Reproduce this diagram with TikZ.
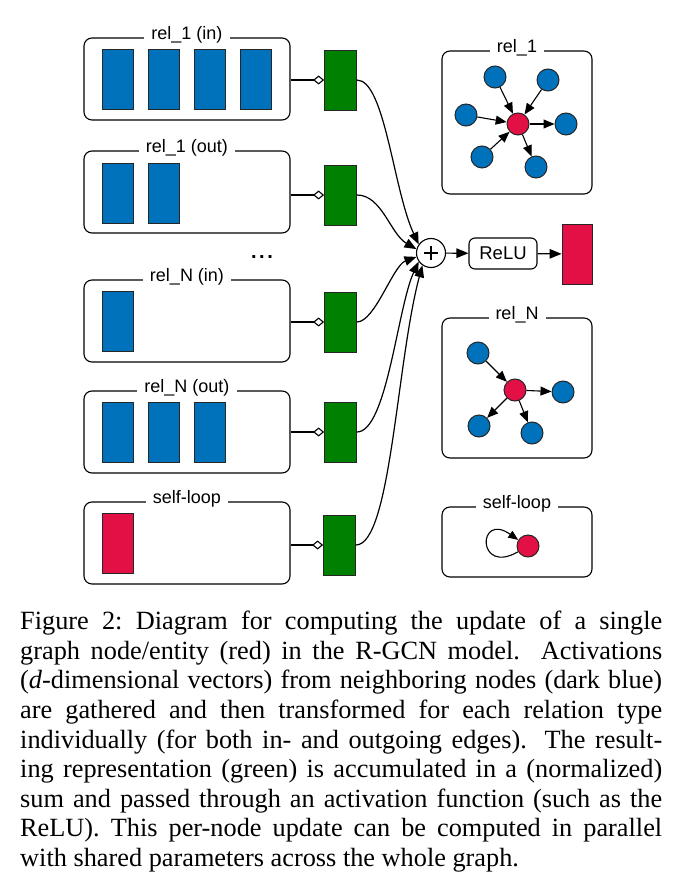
\documentclass[tikz,border=0pt]{standalone}
\usepackage{fontspec}
\setmainfont{Liberation Sans}
\newfontfamily\capfont{Liberation Serif}
\usetikzlibrary{arrows.meta}
\definecolor{myblue}{RGB}{0,114,187}
\definecolor{mygreen}{RGB}{0,128,0}
\definecolor{myred}{RGB}{226,16,68}
\begin{document}
\begin{tikzpicture}[x=1pt,y=1pt,
  frame/.style={draw, rounded corners=8pt, line width=1.1pt, minimum width=206pt, minimum height=82pt, inner sep=0},
  rframe/.style={draw, rounded corners=8pt, line width=1.1pt, minimum width=150pt, inner sep=0},
  ttl/.style={fill=white, inner xsep=7pt, inner ysep=1pt, font=\fontsize{18}{20}\selectfont, anchor=base},
  vec/.style={draw=black!85, line width=0.8pt, minimum width=31pt, minimum height=60pt, inner sep=0},
  bvec/.style={vec, fill=myblue},
  gvec/.style={vec, fill=mygreen, minimum width=32pt},
  rvec/.style={vec, fill=myred},
  gnode/.style={circle, draw=black!85, line width=1pt, minimum size=22pt, inner sep=0},
  bnode/.style={gnode, fill=myblue},
  rnode/.style={gnode, fill=myred},
  dia/.style={line width=1.1pt, -{Diamond[open, length=11pt, width=9pt, line width=1.1pt]}},
  barr/.style={line width=1.2pt, -{Triangle[length=12pt, width=9.5pt]}},
  sarr/.style={line width=1.1pt, -{Triangle[length=11pt, width=9pt]}}
]
\useasboundingbox (0,0) rectangle (681,-882);

% left frames
\node[frame] (b1) at (187,-79) {};
\node[frame] (b2) at (187,-192) {};
\node[frame] (b3) at (187,-321) {};
\node[frame] (b4) at (187,-432) {};
\node[frame] (b5) at (187,-543) {};
\node[ttl] (t1) at ([yshift=-2pt]b1.north) {rel\_1 (in)};
\node[ttl] (t2) at ([yshift=-2pt]b2.north) {rel\_1 (out)};
\node[ttl] (t3) at ([yshift=-2pt]b3.north) {rel\_N (in)};
\node[ttl] (t4) at ([yshift=-2pt]b4.north) {rel\_N (out)};
\node[ttl] (t5) at ([yshift=-2pt]b5.north) {self-loop};

% vectors
\node[bvec] (v11) at (117.5,-79) {};
\node[bvec] (v12) at (163.5,-79) {};
\node[bvec] (v13) at (209.5,-79) {};
\node[bvec] (v14) at (255.5,-79) {};
\node[bvec] (v21) at (117.5,-193) {};
\node[bvec] (v22) at (163.5,-193) {};
\node[bvec] (v31) at (117.5,-321) {};
\node[bvec] (v41) at (117.5,-432) {};
\node[bvec] (v42) at (163.5,-432) {};
\node[bvec] (v43) at (209.5,-432) {};
\node[rvec] (v51) at (117.5,-543) {};

\node[font=\bfseries\fontsize{20}{22}\selectfont] (dots) at (262,-257) {.\hspace{2.5pt}.\hspace{2.5pt}.};

% green transforms
\node[gvec] (g1) at (340.5,-80) {};
\node[gvec] (g2) at (340.5,-195) {};
\node[gvec] (g3) at (340.5,-322) {};
\node[gvec] (g4) at (340.5,-432) {};
\node[gvec] (g5) at (339.5,-545) {};

\draw[dia] (b1.east |- g1.west) -- (g1.west);
\draw[dia] (b2.east |- g2.west) -- (g2.west);
\draw[dia] (b3.east |- g3.west) -- (g3.west);
\draw[dia] (b4.east |- g4.west) -- (g4.west);
\draw[dia] (b5.east |- g5.west) -- (g5.west);

% sum, relu, output
\node[circle, draw, line width=1.1pt, minimum size=29pt, inner sep=0, fill=white] (plus) at (431,-253) {};
\draw[line width=1.2pt] ([xshift=-7pt]plus.center) -- ([xshift=7pt]plus.center);
\draw[line width=1.2pt] ([yshift=-7pt]plus.center) -- ([yshift=7pt]plus.center);
\node[draw, rounded corners=6pt, line width=1.1pt, minimum width=68pt, minimum height=31pt, inner sep=0, font=\fontsize{18.5}{20}\selectfont] (relu) at (503,-253.5) {ReLU};
\node[rvec, minimum width=30pt] (out) at (577,-254) {};
\draw[barr] (plus) -- (relu);
\draw[barr] (relu) -- (out);

\draw[barr] (g1.east) .. controls +(28,0) and +(115:60) .. (plus.145);
\draw[barr] (g2.east) .. controls +(25,0) and +(150:30) .. (plus.165);
\draw[barr] (g3.east) .. controls +(18,0) and +(200:25) .. (plus.195);
\draw[barr] (g4.east) .. controls +(30,0) and +(245:50) .. (plus.215);
\draw[barr] (g5.east) .. controls +(35,0) and +(255:100) .. (plus.235);

% right: rel_1 graph
\node[rframe, minimum height=143pt] (G1) at (517,-122.5) {};
\node[ttl] (T1) at ([yshift=-2pt]G1.north) {rel\_1};
\node[rnode] (c1) at (518,-124) {};
\node[bnode] (n11) at (495,-77) {};
\node[bnode] (n12) at (548,-80) {};
\node[bnode] (n13) at (466,-115) {};
\node[bnode] (n14) at (566,-124) {};
\node[bnode] (n15) at (482,-157) {};
\node[bnode] (n16) at (536,-167) {};
\draw[sarr] (n11) -- (c1);
\draw[sarr] (n12) -- (c1);
\draw[sarr] (n13) -- (c1);
\draw[sarr] (n15) -- (c1);
\draw[sarr] (c1) -- (n14);
\draw[sarr] (c1) -- (n16);

% right: rel_N graph
\node[rframe, minimum height=140pt] (G2) at (517,-388) {};
\node[ttl] (T2) at ([yshift=-2pt]G2.north) {rel\_N};
\node[rnode] (c2) at (515,-390) {};
\node[bnode] (n21) at (478,-353) {};
\node[bnode] (n22) at (563,-392) {};
\node[bnode] (n23) at (479,-426) {};
\node[bnode] (n24) at (532,-433) {};
\draw[sarr] (n21) -- (c2);
\draw[sarr] (c2) -- (n22);
\draw[sarr] (c2) -- (n23);
\draw[sarr] (c2) -- (n24);

% right: self-loop
\node[rframe, minimum height=70pt] (G3) at (517,-542) {};
\node[ttl] (T3) at ([yshift=-2pt]G3.north) {self-loop};
\node[rnode] (c3) at (528,-546) {};
\draw[line width=1.1pt, -{Triangle[length=10pt, width=8pt]}] (c3.210) .. controls +(210:48) and +(145:50) .. (c3.148);

% caption
\node[anchor=north west, inner sep=0, align=left, font=\capfont\fontsize{26.3}{29.6}\selectfont] (cap) at (20,-611) {\frenchspacing%
\makebox[642pt][s]{Figure 2: Diagram for computing the update of a single}\\
\makebox[642pt][s]{graph node/entity (red) in the R-GCN model. Activations}\\
\makebox[642pt][s]{(\textit{d}-dimensional vectors) from neighboring nodes (dark blue)}\\
\makebox[642pt][s]{are gathered and then transformed for each relation type}\\
\makebox[642pt][s]{individually (for both in- and outgoing edges). The result-}\\
\makebox[642pt][s]{ing representation (green) is accumulated in a (normalized)}\\
\makebox[642pt][s]{sum and passed through an activation function (such as the}\\
\makebox[642pt][s]{ReLU). This per-node update can be computed in parallel}\\
with shared parameters across the whole graph.};
\end{tikzpicture}
\end{document}
